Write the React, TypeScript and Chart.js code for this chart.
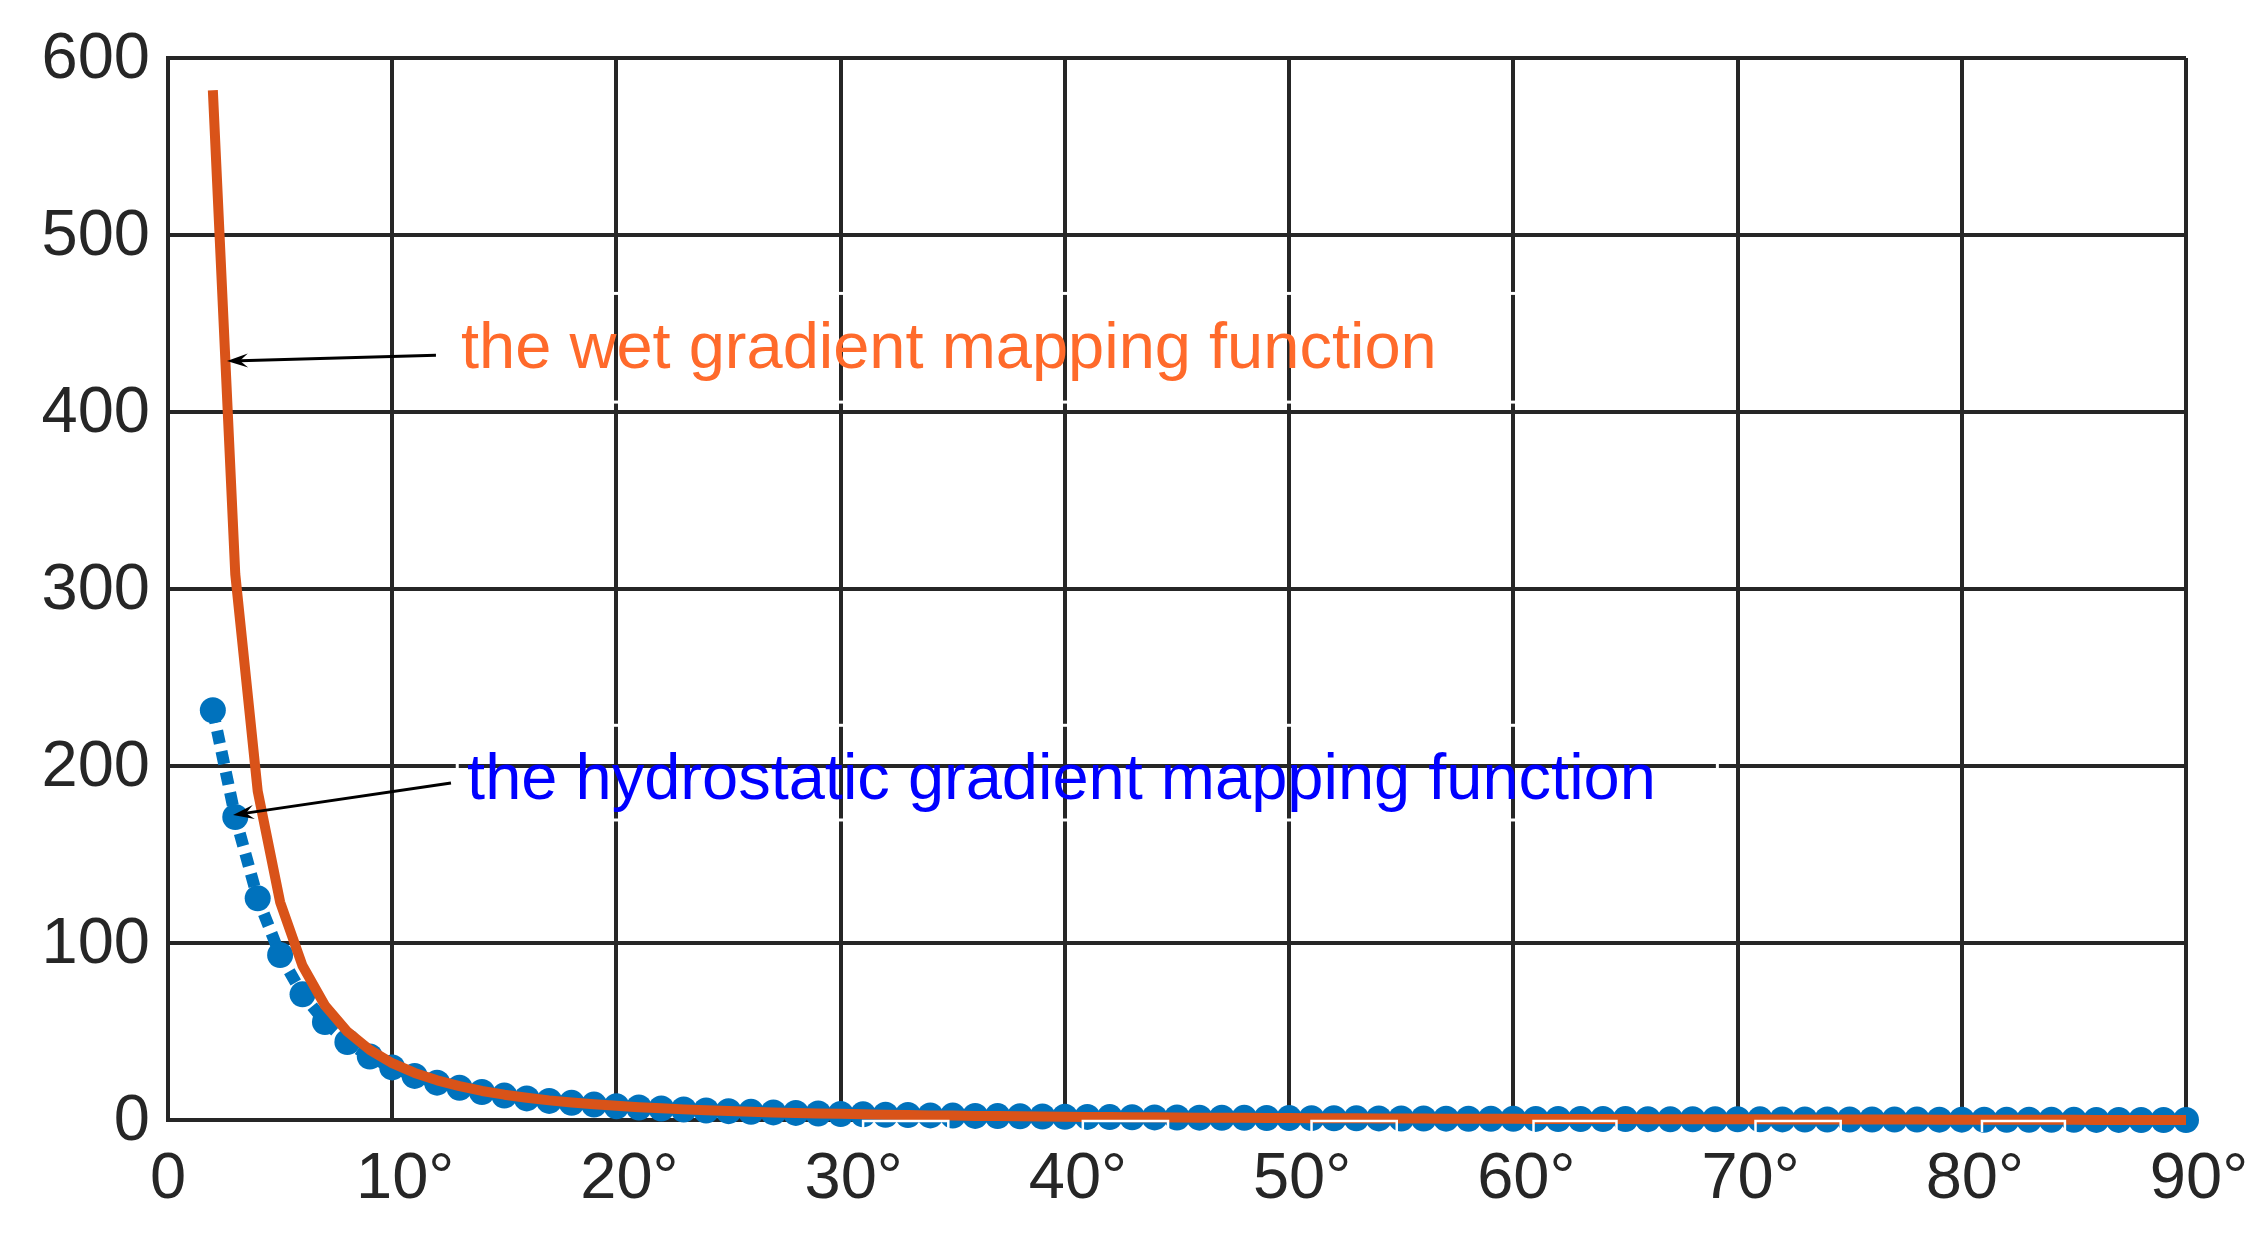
import React, { useEffect, useRef } from 'react';
import { Chart, registerables } from 'chart.js';

Chart.register(...registerables);

// Elevation angle (degrees)
const elevationDeg = [
  2, 3, 4, 5, 6, 7, 8, 9, 10, 11, 12, 13, 14, 15, 16, 17, 18, 19, 20,
  21, 22, 23, 24, 25, 26, 27, 28, 29, 30, 31, 32, 33, 34, 35, 36, 37, 38, 39, 40,
  41, 42, 43, 44, 45, 46, 47, 48, 49, 50, 51, 52, 53, 54, 55, 56, 57, 58, 59, 60,
  61, 62, 63, 64, 65, 66, 67, 68, 69, 70, 71, 72, 73, 74, 75, 76, 77, 78, 79, 80,
  81, 82, 83, 84, 85, 86, 87, 88, 89, 90,
];

// Hydrostatic gradient mapping function (blue dotted line with circles)
const hydrostaticGradient = [
  231.5, 171.2, 125.3, 93.2, 71.0, 55.4, 44.1, 35.9, 29.7, 24.9, 21.1, 18.2, 15.8, 13.8, 12.2, 10.8, 9.7, 8.7, 7.8,
  7.1, 6.5, 5.9, 5.4, 5.0, 4.6, 4.3, 4.0, 3.7, 3.4, 3.2, 3.0, 2.8, 2.6, 2.5, 2.3, 2.2, 2.1, 1.95, 1.84,
  1.74, 1.65, 1.56, 1.48, 1.41, 1.34, 1.27, 1.21, 1.15, 1.09, 1.04, 0.99, 0.94, 0.9, 0.85, 0.81, 0.77, 0.74, 0.7, 0.67,
  0.63, 0.6, 0.57, 0.54, 0.51, 0.49, 0.46, 0.44, 0.41, 0.39, 0.36, 0.34, 0.32, 0.3, 0.28, 0.26, 0.24, 0.22, 0.2, 0.18,
  0.16, 0.14, 0.12, 0.11, 0.09, 0.07, 0.05, 0.03, 0.02, 0.0,
];

// Wet gradient mapping function (orange solid line)
const wetGradient = [
  581.8, 308.4, 185.9, 123.1, 87.1, 64.7, 49.9, 39.6, 32.1, 26.6, 22.4, 19.1, 16.4, 14.3, 12.6, 11.1, 9.9, 8.9, 8.0,
  7.2, 6.6, 6.0, 5.5, 5.1, 4.7, 4.3, 4.0, 3.7, 3.5, 3.2, 3.0, 2.8, 2.6, 2.5, 2.3, 2.2, 2.1, 1.96, 1.85,
  1.75, 1.66, 1.57, 1.49, 1.41, 1.34, 1.27, 1.21, 1.15, 1.09, 1.04, 0.99, 0.94, 0.9, 0.85, 0.81, 0.77, 0.74, 0.7, 0.67,
  0.63, 0.6, 0.57, 0.54, 0.51, 0.49, 0.46, 0.44, 0.41, 0.39, 0.36, 0.34, 0.32, 0.3, 0.28, 0.26, 0.24, 0.22, 0.2, 0.18,
  0.16, 0.14, 0.12, 0.11, 0.09, 0.07, 0.05, 0.03, 0.02, 0.0,
];

const xTickValues = [0, 10, 20, 30, 40, 50, 60, 70, 80, 90];
const xTickLabels = ['0', '10°', '20°', '30°', '40°', '50°', '60°', '70°', '80°', '90°'];
const yTickValues = [0, 100, 200, 300, 400, 500, 600];

const wetLabel = 'the wet gradient mapping function';
const hydroLabel = 'the hydrostatic gradient mapping function';

const FONT = "'Liberation Sans', Arial, Helvetica, sans-serif";
const AXIS_COLOR = '#262626';
const TICK_FONT_SIZE = 65;

// Annotation placement in data coordinates
const annotations = [
  {
    text: wetLabel,
    color: '#FF6A2B',
    textAt: [13.07, 425],
    tail: [11.95, 432],
    tip: [2.63, 428.8],
    box: [12.8, 467, 60.8, 405.6],
  },
  {
    text: hydroLabel,
    color: '#0000FF',
    textAt: [13.34, 181.4],
    tail: [12.62, 190.4],
    tip: [2.9, 172.3],
    box: [12.9, 223, 69.1, 169.5],
  },
];

const bottomBoxes = [
  [31.0, 34.8], [40.8, 44.6], [51.0, 54.8], [60.9, 64.6], [70.8, 74.6], [80.9, 84.6],
];

// Centre the digits of the "NN°" tick labels on the tick (the degree sign hangs to the right)
const degreeLabelPlugin = {
  id: 'degreeLabelPlugin',
  beforeDraw(chart: any) {
    const xs = chart.scales.x;
    if (!xs || typeof xs.getLabelItems !== 'function') return;
    const items = xs.getLabelItems(chart.chartArea);
    const ctx = chart.ctx;
    ctx.save();
    ctx.font = `${TICK_FONT_SIZE}px ${FONT}`;
    const half = ctx.measureText('°').width / 2;
    ctx.restore();
    for (const it of items) {
      const lbl = String(it.label);
      if (lbl.indexOf('°') >= 0 && !it.__shifted) {
        it.options.translation = [it.options.translation[0] + half, it.options.translation[1]];
        it.__shifted = true;
      }
    }
  },
};

const annotationPlugin = {
  id: 'annotationPlugin',
  afterDatasetsDraw(chart: any) {
    const { ctx, scales } = chart;
    const xs = scales.x;
    const ys = scales.y;
    const px = (v: number) => xs.getPixelForValue(v);
    const py = (v: number) => ys.getPixelForValue(v);
    ctx.save();

    // white box outlines (visible only where they cross the grid)
    ctx.strokeStyle = '#ffffff';
    ctx.lineWidth = 3;
    for (const a of annotations) {
      const [x0, y0, x1, y1] = a.box;
      ctx.strokeRect(px(x0), py(y0), px(x1) - px(x0), py(y1) - py(y0));
    }
    // small white open boxes along the bottom
    ctx.lineWidth = 2.5;
    for (const [b0, b1] of bottomBoxes) {
      const top = py(0) + 1;
      const bot = py(0) + 12;
      ctx.beginPath();
      ctx.moveTo(px(b0), bot);
      ctx.lineTo(px(b0), top);
      ctx.lineTo(px(b1), top);
      ctx.lineTo(px(b1), bot);
      ctx.stroke();
    }

    // arrows
    for (const a of annotations) {
      const tx = px(a.tail[0]);
      const ty = py(a.tail[1]);
      const hx = px(a.tip[0]);
      const hy = py(a.tip[1]);
      const ang = Math.atan2(hy - ty, hx - tx);
      const L = 21;
      const W = 7;
      const N = 13;
      const bx = hx - L * Math.cos(ang);
      const by = hy - L * Math.sin(ang);
      ctx.strokeStyle = '#000000';
      ctx.lineWidth = 3;
      ctx.beginPath();
      ctx.moveTo(tx, ty);
      ctx.lineTo(hx - N * Math.cos(ang), hy - N * Math.sin(ang));
      ctx.stroke();
      ctx.fillStyle = '#000000';
      ctx.beginPath();
      ctx.moveTo(hx, hy);
      ctx.lineTo(bx - W * Math.sin(ang), by + W * Math.cos(ang));
      ctx.lineTo(hx - N * Math.cos(ang), hy - N * Math.sin(ang));
      ctx.lineTo(bx + W * Math.sin(ang), by - W * Math.cos(ang));
      ctx.closePath();
      ctx.fill();
    }

    // texts
    ctx.font = `65px ${FONT}`;
    ctx.textAlign = 'left';
    ctx.textBaseline = 'alphabetic';
    for (const a of annotations) {
      ctx.fillStyle = a.color;
      ctx.fillText(a.text, px(a.textAt[0]), py(a.textAt[1]));
    }
    ctx.restore();
  },
};

export default function App() {
  const canvasRef = useRef<HTMLCanvasElement | null>(null);

  useEffect(() => {
    document.body.style.margin = '0';
    const canvas = canvasRef.current;
    if (!canvas) return;
    const chart = new Chart(canvas, {
      type: 'line',
      data: {
        datasets: [
          {
            label: 'wet',
            data: elevationDeg.map((e, i) => ({ x: e, y: wetGradient[i] })),
            borderColor: '#D95319',
            backgroundColor: '#D95319',
            borderWidth: 10,
            borderJoinStyle: 'round',
            pointRadius: 0,
            tension: 0,
            fill: false,
            clip: false,
            order: 0,
          },
          {
            label: 'hydrostatic',
            data: elevationDeg.map((e, i) => ({ x: e, y: hydrostaticGradient[i] })),
            borderColor: '#0072BD',
            backgroundColor: '#0072BD',
            borderWidth: 12,
            borderDash: [13, 8],
            borderCapStyle: 'butt',
            pointRadius: 13,
            pointBorderWidth: 0,
            pointBackgroundColor: '#0072BD',
            tension: 0,
            fill: false,
            clip: false,
            order: 1,
          },
        ],
      },
      options: {
        responsive: false,
        animation: false,
        devicePixelRatio: 1,
        events: [],
        layout: { padding: { left: 0, top: 58, right: 74, bottom: 0 } },
        plugins: {
          legend: { display: false },
          tooltip: { enabled: false },
          title: { display: false },
        },
        scales: {
          x: {
            type: 'linear',
            min: 0,
            max: 90,
            afterBuildTicks: (scale: any) => {
              scale.ticks = xTickValues.map((v) => ({ value: v }));
            },
            afterFit: (scale: any) => {
              scale.height = 118;
            },
            ticks: {
              autoSkip: false,
              maxRotation: 0,
              padding: 21,
              color: AXIS_COLOR,
              font: { family: FONT, size: TICK_FONT_SIZE },
              callback: (v: any) => {
                const i = xTickValues.indexOf(Number(v));
                return i >= 0 ? xTickLabels[i] : '';
              },
            },
            grid: { color: AXIS_COLOR, lineWidth: 4, drawTicks: false },
            border: { display: true, color: AXIS_COLOR, width: 4 },
          },
          y: {
            type: 'linear',
            min: 0,
            max: 600,
            afterBuildTicks: (scale: any) => {
              scale.ticks = yTickValues.map((v) => ({ value: v }));
            },
            afterFit: (scale: any) => {
              scale.width = 168;
            },
            ticks: {
              autoSkip: false,
              padding: 18,
              labelOffset: 2.5,
              color: AXIS_COLOR,
              font: { family: FONT, size: TICK_FONT_SIZE },
              callback: (v: any) => String(v),
            },
            grid: { color: AXIS_COLOR, lineWidth: 4, drawTicks: false },
            border: { display: true, color: AXIS_COLOR, width: 4 },
          },
        },
      },
      plugins: [degreeLabelPlugin, annotationPlugin],
    } as any);
    return () => chart.destroy();
  }, []);

  return (
    <div style={{ width: 2260, height: 1238, background: '#ffffff' }}>
      <canvas ref={canvasRef} width={2260} height={1238} style={{ display: 'block' }} />
    </div>
  );
}
